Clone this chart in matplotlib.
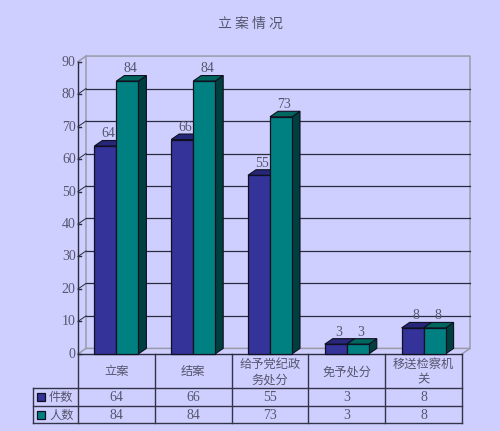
import matplotlib
matplotlib.use('Agg')
import matplotlib.pyplot as plt
from matplotlib.patches import Polygon, Rectangle

# Chart data
title = '立案情况'
categories = ['立案', '结案', '给予党纪政\n务处分', '免予处分', '移送检察机\n关']
series_names = ['件数', '人数']
cases = [64, 66, 55, 3, 8]
people = [84, 84, 73, 3, 8]
y_ticks = [0, 10, 20, 30, 40, 50, 60, 70, 80, 90]

bg = '#CFCFFF'
front_cols = ['#333399', '#008080']
top_cols = ['#27277A', '#006660']
side_cols = ['#1C1C5C', '#003F3F']
text_col = '#55556F'
line_col = '#2B2B3F'
cjk = ['Noto Sans CJK SC', 'DejaVu Sans']
num_font = 'Liberation Serif'

W, H = 500, 431
fig = plt.figure(figsize=(5, 4.315), dpi=100, facecolor=bg)

# Pixel overlay for title and table
pix = fig.add_axes([0, 0, 1, 1])
pix.set_xlim(0, W)
pix.set_ylim(H, 0)
pix.axis('off')

# Plot area (front plane)
left, right, top, bottom = 78, 462, 62, 354
ax = fig.add_axes([left / W, 1 - bottom / H, (right - left) / W, (bottom - top) / H])
ax.set_xlim(0, 5)
ax.set_ylim(0, 90)
ax.patch.set_alpha(0)
ax.axis('off')

# 3D depth in data units
dx = 8 / ((right - left) / 5)
dy = 5.5 / ((bottom - top) / 90)
bar_w = 22 / ((right - left) / 5)

# Back wall, left wall and floor
wall = '#9A9AA8'
ax.plot([dx, dx, 5 + dx, 5 + dx, 5], [dy, 90 + dy, 90 + dy, dy, 0], color=wall, lw=1.1, clip_on=False)
ax.plot([0, dx, 5 + dx], [0, dy, dy], color=wall, lw=1.1, clip_on=False)
ax.plot([0, dx], [90, 90 + dy], color=wall, lw=1.1, clip_on=False)

# Gridlines and axis ticks
for t in y_ticks[1:-1]:
    ax.plot([dx, 5 + dx], [t + dy, t + dy], color=line_col, lw=0.9, clip_on=False)
    ax.plot([0, dx], [t, t + dy], color=line_col, lw=0.7, clip_on=False)
ax.plot([0, 0], [0, 90], color=line_col, lw=1.0, clip_on=False)
ax.plot([0, 5], [0, 0], color=line_col, lw=1.0, clip_on=False)
for t in y_ticks:
    ax.plot([0, 0.035], [t, t], color=line_col, lw=1.0, clip_on=False)
    ax.text(-0.03, t, str(t), ha='right', va='center', fontsize=10,
            family=num_font, color=text_col, clip_on=False)


def draw_bar(x0, v, idx):
    x1 = x0 + bar_w
    ax.add_patch(Polygon([(x1, 0), (x1 + dx, dy), (x1 + dx, v + dy), (x1, v)],
                         fc=side_cols[idx], ec='#101020', lw=0.8, clip_on=False, zorder=3))
    ax.add_patch(Polygon([(x0, v), (x0 + dx, v + dy), (x1 + dx, v + dy), (x1, v)],
                         fc=top_cols[idx], ec='#101020', lw=0.8, clip_on=False, zorder=3))
    ax.add_patch(Rectangle((x0, 0), bar_w, v, fc=front_cols[idx], ec='#101020',
                           lw=0.9, clip_on=False, zorder=4))
    ax.text(x0 + bar_w / 2 + dx * 0.4, v + dy + 0.2, str(v), ha='center', va='bottom',
            fontsize=10, family=num_font, color=text_col, zorder=5)


for i in range(len(categories)):
    c = i + 0.5
    draw_bar(c - bar_w, cases[i], 0)
    draw_bar(c, people[i], 1)

# Title
pix.text(250, 24, ' '.join(title), ha='center', va='center',
         fontsize=10, family=cjk, color=text_col)

# Data table below the plot
xs = [left + (right - left) * i / 5 for i in range(6)]
rows = [354, 388, 406.5, 423]
leg_left = 33
grid = '#33334A'
for x in xs:
    pix.plot([x, x], [354, rows[3]], color=grid, lw=1.0)
for y in rows[1:]:
    pix.plot([leg_left, right], [y, y], color=grid, lw=1.0)
pix.plot([leg_left, leg_left], [rows[1], rows[3]], color=grid, lw=1.0)

for i, cat in enumerate(categories):
    cx = (xs[i] + xs[i + 1]) / 2
    pix.text(cx, (rows[0] + rows[1]) / 2 + 0.5, cat, ha='center', va='center', fontsize=8.8,
             family=cjk, color=text_col, linespacing=1.25)
    for r, vals in enumerate([cases, people]):
        pix.text(cx, (rows[r + 1] + rows[r + 2]) / 2, str(vals[i]), ha='center', va='center',
                 fontsize=10, family=num_font, color=text_col)

# Legend keys inside the table
for r, name in enumerate(series_names):
    cy = (rows[r + 1] + rows[r + 2]) / 2
    pix.add_patch(Rectangle((37, cy - 4), 8, 8, fc=front_cols[r], ec='#101020', lw=0.9))
    pix.text(49, cy, name, ha='left', va='center', fontsize=8.8, family=cjk, color=text_col)

fig.savefig('out.png', dpi=100, facecolor=bg)
